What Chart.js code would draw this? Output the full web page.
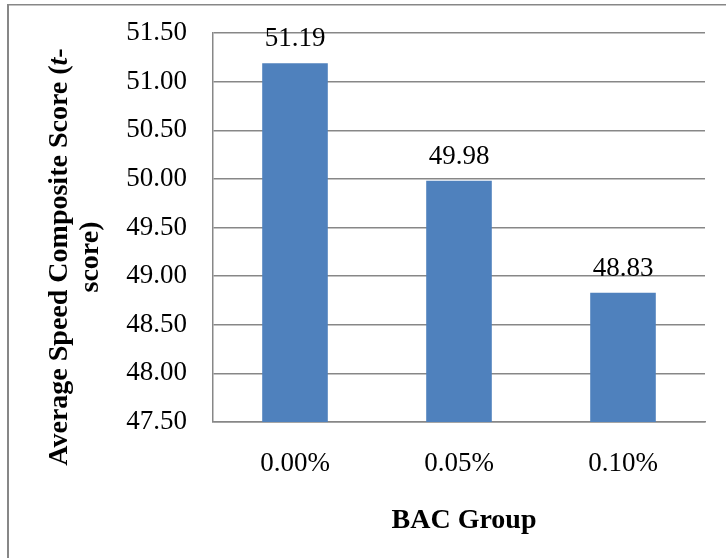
<!DOCTYPE html>
<html>
<head>
<meta charset="utf-8">
<script src="https://cdn.jsdelivr.net/npm/chart.js@4/dist/chart.umd.min.js"></script>
<style>
  html, body { margin: 0; padding: 0; background: #ffffff; }
  #wrap { position: relative; width: 726px; height: 558px; }
</style>
</head>
<body>
<div id="wrap"><canvas id="c" width="726" height="558"></canvas></div>
<script>
const categories = ['0.00%', '0.05%', '0.10%'];
const scores = [51.19, 49.98, 48.83];
const yMin = 47.5;
const yMax = 51.5;
const yStep = 0.5;
const yTitleLine1 = ['Average Speed Composite Score (', 't', '-'];
const yTitleLine2 = 'score)';
const xTitle = 'BAC Group';

const FONT = "'Liberation Serif', 'Times New Roman', serif";
const GRID = '#878787';

const framePlugin = {
  id: 'frame',
  beforeDraw(chart) {
    const ctx = chart.ctx;
    ctx.save();
    ctx.fillStyle = '#ffffff';
    ctx.fillRect(0, 0, chart.width, chart.height);
    ctx.fillStyle = GRID;
    ctx.fillRect(7, 4, chart.width - 7, 1.5);
    ctx.fillRect(7, 4, 2, chart.height - 4);
    ctx.restore();
  }
};

const labelsPlugin = {
  id: 'valueLabels',
  afterDatasetsDraw(chart) {
    const ctx = chart.ctx;
    const meta = chart.getDatasetMeta(0);
    ctx.save();
    ctx.font = '27px ' + FONT;
    ctx.fillStyle = '#000000';
    ctx.textAlign = 'center';
    ctx.textBaseline = 'alphabetic';
    meta.data.forEach((bar, i) => {
      ctx.fillText(scores[i].toFixed(2), bar.x, bar.y - 17);
    });
    ctx.restore();
  }
};

const titlesPlugin = {
  id: 'axisTitles',
  afterDraw(chart) {
    const ctx = chart.ctx;
    const area = chart.chartArea;
    ctx.save();
    ctx.fillStyle = '#000000';
    ctx.font = 'bold 28px ' + FONT;
    ctx.textAlign = 'center';
    ctx.textBaseline = 'alphabetic';
    ctx.fillText(xTitle, (area.left + area.right) / 2 + 5, 528);
    const cy = 257;
    const fonts = ['bold 28px ' + FONT, 'italic bold 28px ' + FONT, 'bold 28px ' + FONT];
    let widths = yTitleLine1.map((s, i) => { ctx.font = fonts[i]; return ctx.measureText(s).width; });
    const total = widths.reduce((a, b) => a + b, 0);
    ctx.save();
    ctx.translate(67, cy);
    ctx.rotate(-Math.PI / 2);
    ctx.textAlign = 'left';
    let x = -total / 2;
    yTitleLine1.forEach((s, i) => {
      ctx.font = fonts[i];
      ctx.fillText(s, x, 0);
      x += widths[i];
    });
    ctx.restore();
    ctx.save();
    ctx.translate(98, cy);
    ctx.rotate(-Math.PI / 2);
    ctx.font = 'bold 28px ' + FONT;
    ctx.textAlign = 'center';
    ctx.fillText(yTitleLine2, 0, 0);
    ctx.restore();
    ctx.restore();
  }
};

new Chart(document.getElementById('c'), {
  type: 'bar',
  data: {
    labels: categories,
    datasets: [{
      data: scores,
      backgroundColor: '#4F81BD',
      borderWidth: 0,
      barPercentage: 0.4,
      categoryPercentage: 1.0
    }]
  },
  options: {
    responsive: false,
    animation: false,
    devicePixelRatio: 1,
    layout: { padding: { left: 0, top: 33, right: 21, bottom: 0 } },
    plugins: {
      legend: { display: false },
      tooltip: { enabled: false },
      title: { display: false }
    },
    scales: {
      x: {
        grid: { display: false, drawTicks: false },
        border: { display: true, color: GRID, width: 1.5 },
        ticks: {
          padding: 26,
          color: '#000000',
          font: { family: FONT, size: 27 },
          maxRotation: 0
        },
        afterFit(scale) { scale.height = 136; scale.paddingLeft = 0; scale.paddingRight = 0; }
      },
      y: {
        min: yMin,
        max: yMax,
        grid: { color: GRID, lineWidth: 1.5, drawTicks: false },
        border: { display: true, color: GRID, width: 1.5 },
        ticks: {
          stepSize: yStep,
          padding: 26,
          color: '#000000',
          font: { family: FONT, size: 27 },
          callback: (v) => Number(v).toFixed(2)
        },
        afterFit(scale) { scale.width = 213; scale.paddingTop = 0; scale.paddingBottom = 0; }
      }
    }
  },
  plugins: [framePlugin, labelsPlugin, titlesPlugin]
});
</script>
</body>
</html>
